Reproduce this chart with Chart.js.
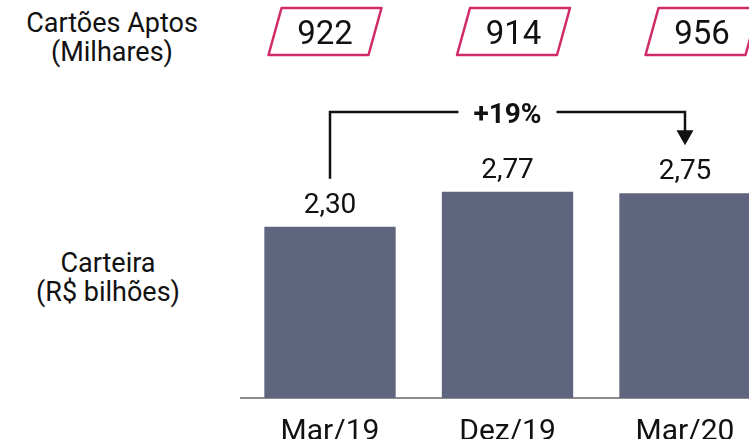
<!DOCTYPE html>
<html lang="pt-BR">
<head>
    <meta charset="UTF-8">
    <title>Carteira e Cartões Aptos</title>
    <script src="https://cdn.jsdelivr.net/npm/chart.js"></script>
    <style>
        body {
            margin: 0;
            padding: 0;
            width: 749px;
            height: 439px;
            overflow: hidden;
            position: relative;
            background: #fff;
            font-family: Roboto, Arial, sans-serif;
            color: #111;
        }
        #grafico {
            position: absolute;
            left: 0;
            top: 0;
        }
        .rotulo {
            position: absolute;
            width: 220px;
            text-align: center;
            font-size: 27px;
            line-height: 29px;
        }
    </style>
</head>
<body>
    <div class="rotulo" style="left:2px;top:9px">Cartões Aptos<br>(Milhares)</div>
    <div class="rotulo" style="left:-2px;top:249px">Carteira<br>(R$ bilhões)</div>
    <canvas id="grafico" width="780" height="466"></canvas>

    <script>
        const periodos = ["Mar/19", "Dez/19", "Mar/20"];
        const carteira = [2.30, 2.77, 2.75];       // R$ bilhões
        const cartoesAptos = [922, 914, 956];      // milhares
        const crescimento = "+19%";

        const corBarra = "#60657f";
        const corCaixa = "#d12a68";

        // valores das barras acima de cada coluna
        const rotulosValor = {
            id: "rotulosValor",
            afterDatasetsDraw(chart) {
                const ctx = chart.ctx;
                const meta = chart.getDatasetMeta(0);
                ctx.save();
                ctx.font = "28px Roboto";
                ctx.fillStyle = "#111";
                ctx.textAlign = "center";
                ctx.textBaseline = "alphabetic";
                meta.data.forEach((bar, i) => {
                    ctx.fillText(carteira[i].toFixed(2).replace(".", ","), bar.x, bar.y - 14);
                });
                ctx.restore();
            }
        };

        // caixas inclinadas com os cartões aptos no topo
        const caixasTopo = {
            id: "caixasTopo",
            afterDraw(chart) {
                const ctx = chart.ctx;
                const x = chart.scales.x;
                const x0 = x.getPixelForValue(0);
                const h = 47, topo = 8, incl = 13, larg = 100;
                ctx.save();
                cartoesAptos.forEach((v, i) => {
                    const px = x.getPixelForValue(i);
                    const cx = x0 + (px - x0) * 1.062 - 5;
                    const cy = topo + h / 2;
                    ctx.beginPath();
                    ctx.moveTo(cx - larg / 2 + incl / 2, topo);
                    ctx.lineTo(cx + larg / 2 + incl / 2, topo);
                    ctx.lineTo(cx + larg / 2 - incl / 2, topo + h);
                    ctx.lineTo(cx - larg / 2 - incl / 2, topo + h);
                    ctx.closePath();
                    ctx.lineJoin = "round";
                    ctx.lineWidth = 2.5;
                    ctx.strokeStyle = corCaixa;
                    ctx.stroke();
                    ctx.font = "33px Roboto";
                    ctx.fillStyle = "#111";
                    ctx.textAlign = "center";
                    ctx.textBaseline = "alphabetic";
                    ctx.fillText(String(v), cx, cy + 12);
                });
                ctx.restore();
            }
        };

        // seta de crescimento entre a primeira e a última barra
        const setaCrescimento = {
            id: "setaCrescimento",
            afterDraw(chart) {
                const ctx = chart.ctx;
                const meta = chart.getDatasetMeta(0);
                const a = meta.data[0], b = meta.data[meta.data.length - 1];
                const yLinha = chart.chartArea.top + 12;
                const yIni = a.y - 48;
                const yFim = b.y - 48;
                const meio = meta.data[1].x;
                ctx.save();
                ctx.strokeStyle = "#111";
                ctx.fillStyle = "#111";
                ctx.lineWidth = 2.5;
                ctx.beginPath();
                ctx.moveTo(a.x, yIni);
                ctx.lineTo(a.x, yLinha);
                ctx.lineTo(b.x, yLinha);
                ctx.lineTo(b.x, yFim - 14);
                ctx.stroke();
                ctx.beginPath();
                ctx.moveTo(b.x - 8.5, yFim - 15);
                ctx.lineTo(b.x + 8.5, yFim - 15);
                ctx.lineTo(b.x, yFim);
                ctx.closePath();
                ctx.fill();

                ctx.font = "bold 28px Roboto";
                const w = ctx.measureText(crescimento).width;
                ctx.fillStyle = "#fff";
                ctx.fillRect(meio - w / 2 - 15, yLinha - 10, w + 30, 20);
                ctx.fillStyle = "#111";
                ctx.textAlign = "center";
                ctx.textBaseline = "alphabetic";
                ctx.fillText(crescimento, meio, yLinha + 11);
                ctx.restore();
            }
        };

        new Chart(document.getElementById("grafico"), {
            type: "bar",
            data: {
                labels: periodos,
                datasets: [{
                    data: carteira,
                    backgroundColor: corBarra,
                    borderWidth: 0,
                    categoryPercentage: 1,
                    barPercentage: 0.74
                }]
            },
            options: {
                responsive: false,
                animation: false,
                layout: {
                    padding: { left: 241.25, right: 6.25, top: 100, bottom: 0 }
                },
                plugins: {
                    legend: { display: false },
                    tooltip: { enabled: false }
                },
                scales: {
                    x: {
                        grid: { display: false, drawTicks: false },
                        border: { display: true, color: "#8c8c8c", width: 2 },
                        ticks: {
                            color: "#111",
                            padding: 19,
                            font: { family: "Roboto", size: 30, lineHeight: 1 }
                        }
                    },
                    y: {
                        display: false,
                        min: 0,
                        max: 4
                    }
                }
            },
            plugins: [rotulosValor, caixasTopo, setaCrescimento]
        });
    </script>
</body>
</html>
